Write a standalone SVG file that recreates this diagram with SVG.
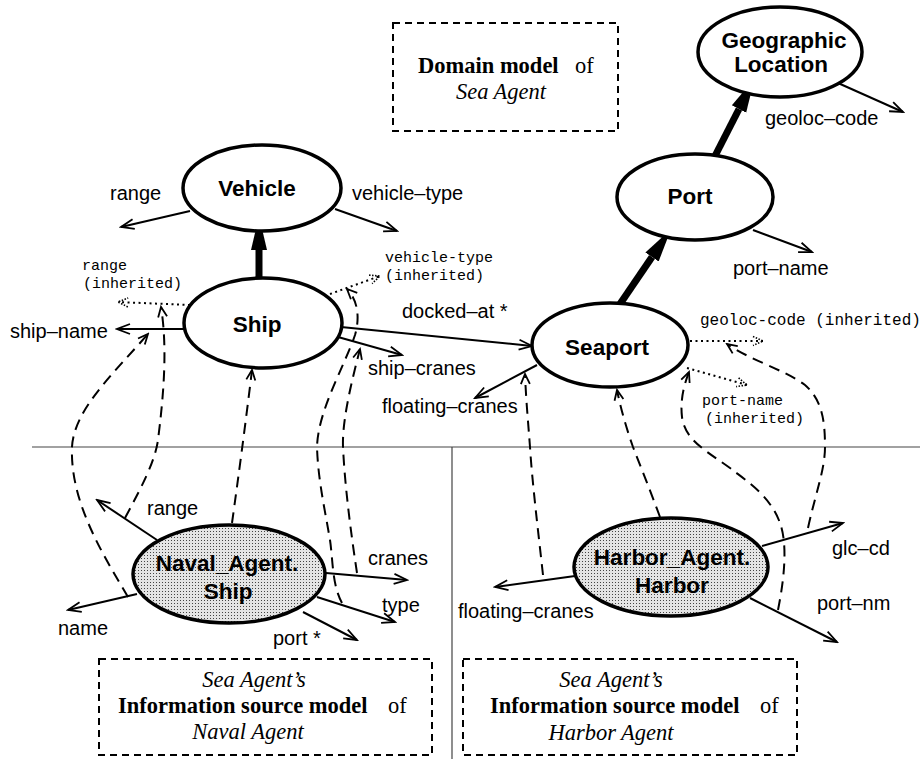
<svg xmlns="http://www.w3.org/2000/svg" width="920" height="759" viewBox="0 0 920 759">
<style>
.node{fill:#fff;stroke:#000;stroke-width:3.5}
.agent{fill:url(#stip);stroke:#000;stroke-width:3.5}
.nl{font-family:"Liberation Sans",Arial,sans-serif;font-weight:bold;font-size:22.5px;text-anchor:middle;fill:#000}
.lb{font-family:"Liberation Sans",Arial,sans-serif;font-size:20px;fill:#000}
.mono{font-family:"Liberation Mono","Courier New",monospace;font-size:15px;fill:#000}
.bx{font-family:"Liberation Serif","Times New Roman",serif;font-size:22.5px;fill:#000}
.b{font-weight:bold}
.i{font-style:italic}
.box{fill:none;stroke:#000;stroke-width:2;stroke-dasharray:7 5}
.arr{fill:none;stroke:#000;stroke-width:2;marker-end:url(#oa)}
.thick{fill:none;stroke:#000;stroke-width:7;marker-end:url(#th)}
.map{fill:none;stroke:#000;stroke-width:2;stroke-dasharray:11 7;marker-end:url(#da)}
.inh{fill:none;stroke:#000;stroke-width:2;stroke-dasharray:2 3.5;marker-end:url(#dt)}
.sep{stroke:#444;stroke-width:1.2}
</style>
<defs>
<pattern id="stip" width="3" height="3" patternUnits="userSpaceOnUse">
<rect width="3" height="3" fill="#e4e4e4"/>
<rect width="1" height="1" fill="#444"/>
</pattern>
<marker id="oa" viewBox="-14 -7 16 14" refX="0" refY="0" markerWidth="16" markerHeight="14" markerUnits="userSpaceOnUse" orient="auto">
<path d="M-13,-5 L0,0 L-13,5" fill="none" stroke="#000" stroke-width="1.8"/>
</marker>
<marker id="th" viewBox="0 -9 35 18" refX="0" refY="0" markerWidth="35" markerHeight="18" markerUnits="userSpaceOnUse" orient="auto">
<path d="M0,-8 L34,0 L0,8 Z" fill="#000"/>
</marker>
<marker id="da" viewBox="-12 -6 14 12" refX="0" refY="0" markerWidth="14" markerHeight="12" markerUnits="userSpaceOnUse" orient="auto">
<path d="M-10,-4.5 L0,0 L-10,4.5" fill="none" stroke="#000" stroke-width="1.8"/>
</marker>
<marker id="dt" viewBox="-12 -6 14 12" refX="0" refY="0" markerWidth="14" markerHeight="12" markerUnits="userSpaceOnUse" orient="auto">
<path d="M-10,-4.5 L0,0 L-10,4.5" fill="none" stroke="#000" stroke-width="1.6" stroke-dasharray="1.5 1.5"/>
</marker>
</defs>

<g id="separators">
<line class="sep" x1="32" y1="447" x2="920" y2="447"/>
<line class="sep" x1="452" y1="447" x2="452" y2="759"/>
</g>

<g id="domain-box">
<rect class="box" x="393" y="23" width="225" height="108"/>
<text class="bx" x="418" y="73"><tspan class="b">Domain model</tspan><tspan x="575">of</tspan></text>
<text class="bx i" x="501" y="99" text-anchor="middle">Sea Agent</text>
</g>

<g id="naval-box">
<rect class="box" x="99" y="659" width="333" height="96"/>
<text class="bx i" x="254" y="687" text-anchor="middle">Sea Agent’s</text>
<text class="bx" x="118" y="713"><tspan class="b">Information source model</tspan><tspan x="388">of</tspan></text>
<text class="bx i" x="248" y="739" text-anchor="middle">Naval  Agent</text>
</g>

<g id="harbor-box">
<rect class="box" x="463" y="659" width="334" height="96"/>
<text class="bx i" x="611" y="687" text-anchor="middle">Sea Agent’s</text>
<text class="bx" x="490" y="713"><tspan class="b">Information source model</tspan><tspan x="760">of</tspan></text>
<text class="bx i" x="611" y="740" text-anchor="middle">Harbor Agent</text>
</g>

<g id="connectors">
<!-- inheritance (thick) -->
<line class="thick" x1="259" y1="279" x2="259" y2="250"/>
<line class="thick" x1="715" y1="156" x2="739" y2="109"/>
<line class="thick" x1="620" y1="304" x2="652" y2="257"/>
<!-- attributes and relations -->
<line class="arr" x1="190" y1="211" x2="121" y2="227"/>
<line class="arr" x1="335" y1="209" x2="397" y2="231"/>
<line class="arr" x1="838" y1="83" x2="903" y2="112"/>
<line class="arr" x1="753" y1="230" x2="812" y2="252"/>
<line class="arr" x1="185" y1="329" x2="117" y2="329"/>
<line class="arr" x1="341" y1="327" x2="532" y2="346"/>
<line class="arr" x1="338" y1="337" x2="402" y2="355"/>
<line class="arr" x1="537" y1="365" x2="475" y2="398"/>
<line class="arr" x1="157" y1="540" x2="97" y2="500"/>
<line class="arr" x1="137" y1="594" x2="68" y2="610"/>
<line class="arr" x1="326" y1="573" x2="407" y2="580"/>
<line class="arr" x1="317" y1="597" x2="395" y2="622"/>
<line class="arr" x1="303" y1="612" x2="357" y2="640"/>
<line class="arr" x1="575" y1="576" x2="495" y2="587"/>
<line class="arr" x1="762" y1="546" x2="843" y2="523"/>
<line class="arr" x1="750" y1="598" x2="837" y2="642"/>
<!-- inherited (dotted) -->
<line class="inh" x1="190" y1="305" x2="118" y2="302"/>
<line class="inh" x1="330" y1="294" x2="380" y2="276"/>
<line class="inh" x1="690" y1="341" x2="763" y2="341"/>
<line class="inh" x1="687" y1="368" x2="747" y2="385"/>
<!-- mappings (dashed) -->
<path class="map" d="M128,597 C100,550 70,500 72,447 C74,410 112,375 148,334"/>
<path class="map" d="M125,518 C140,490 155,462 158,440 C163,400 168,350 161,307"/>
<path class="map" d="M232,523 C238,480 246,420 252,370"/>
<path class="map" d="M342,603 C332,585 333,560 330,540 C325,510 318,480 317,447 C318,410 345,365 355,335 C360,318 358,300 347,289"/>
<path class="map" d="M357,573 C352,540 345,490 343,447 C342,420 352,380 360,349"/>
<path class="map" d="M543,575 C538,530 532,480 530,447 C528,420 526,400 525,374"/>
<path class="map" d="M660,517 C650,490 640,465 633,447 C627,430 621,410 617,390"/>
<path class="map" d="M778,610 C784,580 788,545 780,523 C770,495 745,480 730,468 C705,450 685,440 682,417 C680,400 684,385 689,372"/>
<path class="map" d="M808,528 C815,495 825,470 825,447 C825,420 822,400 805,385 C785,370 750,360 727,344"/>
</g>

<g id="vehicle">
<ellipse class="node" cx="262" cy="188" rx="79" ry="43"/>
<text class="nl" x="257" y="196">Vehicle</text>
</g>
<g id="ship">
<ellipse class="node" cx="263" cy="323" rx="79" ry="45"/>
<text class="nl" x="257" y="332">Ship</text>
</g>
<g id="geographic-location">
<ellipse class="node" cx="780" cy="52" rx="82" ry="45"/>
<text class="nl" x="784" y="48">Geographic</text>
<text class="nl" x="781" y="72">Location</text>
</g>
<g id="port">
<ellipse class="node" cx="695" cy="197" rx="78" ry="43"/>
<text class="nl" x="690" y="204">Port</text>
</g>
<g id="seaport">
<ellipse class="node" cx="610" cy="345" rx="78" ry="42"/>
<text class="nl" x="607" y="355">Seaport</text>
</g>
<g id="naval-agent-ship">
<ellipse class="agent" cx="229" cy="574" rx="96" ry="49"/>
<text class="nl" x="227" y="571">Naval_Agent.</text>
<text class="nl" x="228" y="599">Ship</text>
</g>
<g id="harbor-agent-harbor">
<ellipse class="agent" cx="671" cy="567" rx="97" ry="49"/>
<text class="nl" x="672" y="565">Harbor_Agent.</text>
<text class="nl" x="672" y="593">Harbor</text>
</g>

<g id="labels">
<text class="lb" x="110" y="200">range</text>
<text class="lb" x="352" y="200">vehicle–type</text>
<text class="lb" x="765" y="125">geoloc–code</text>
<text class="lb" x="733" y="275">port–name</text>
<text class="lb" x="10" y="338">ship–name</text>
<text class="lb" x="402" y="318">docked–at *</text>
<text class="lb" x="368" y="375">ship–cranes</text>
<text class="lb" x="382" y="413">floating–cranes</text>
<text class="lb" x="147" y="515">range</text>
<text class="lb" x="58" y="635">name</text>
<text class="lb" x="368" y="565">cranes</text>
<text class="lb" x="382" y="612">type</text>
<text class="lb" x="273" y="645">port *</text>
<text class="lb" x="458" y="618">floating–cranes</text>
<text class="lb" x="832" y="555">glc–cd</text>
<text class="lb" x="817" y="610">port–nm</text>
<text class="mono" x="82" y="270">range</text>
<text class="mono" x="83" y="288">(inherited)</text>
<text class="mono" x="385" y="262">vehicle-type</text>
<text class="mono" x="385" y="280">(inherited)</text>
<text class="mono" x="700" y="325" style="font-size:16px">geoloc-code (inherited)</text>
<text class="mono" x="702" y="405">port-name</text>
<text class="mono" x="705" y="423">(inherited)</text>
</g>
</svg>
